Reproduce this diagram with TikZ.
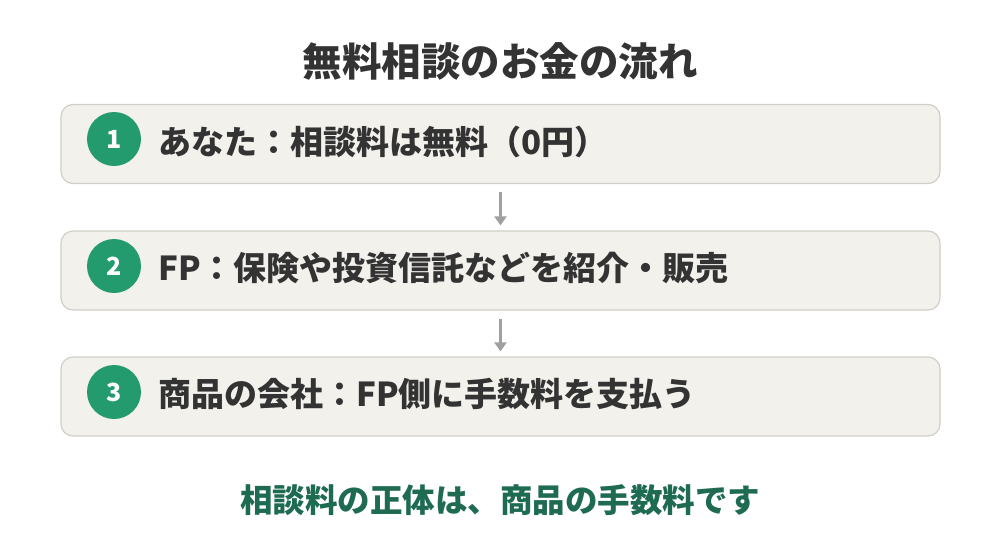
\documentclass[tikz,border=0pt]{standalone}
\usepackage{fontspec}
\newfontfamily\jp{Noto Sans CJK JP}
\usetikzlibrary{arrows.meta,positioning}
\definecolor{cbox}{RGB}{243,241,236}
\definecolor{cedge}{RGB}{208,206,198}
\definecolor{cstep}{RGB}{35,155,110}
\definecolor{ctext}{RGB}{51,51,51}
\definecolor{cnote}{RGB}{30,107,82}
\definecolor{carrow}{RGB}{160,160,160}

\begin{document}
\begin{tikzpicture}[
  x=1pt, y=-1pt,
  font=\jp\bfseries,
  rowbox/.style={draw=cedge, fill=cbox, line width=1.2pt, rounded corners=12pt, minimum width=879pt, minimum height=79pt, inner sep=0pt},
  num/.style={circle, fill=cstep, minimum size=54pt, inner sep=0pt, text=white, font=\jp\bfseries\fontsize{25}{28}\selectfont},
  lab/.style={anchor=west, text=ctext, inner sep=0pt, font=\jp\bfseries\fontsize{33}{38}\selectfont},
  ar/.style={-{Triangle[length=9pt,width=12pt]}, carrow, line width=2.5pt},
]
\useasboundingbox (0,0) rectangle (1000,546);

% ---- title ----
\node[text=ctext, font=\jp\bfseries\fontsize{39.5}{44}\selectfont] (title) at (500,61) {無料相談のお金の流れ};

% ---- steps ----
\node[rowbox] (s1) at (500.5,144) {};
\node[rowbox] (s2) at (500.5,270.5) {};
\node[rowbox] (s3) at (500.5,396.5) {};

\node[num] (n1) at (114,139) {1};
\node[num] (n2) at (114,266) {2};
\node[num] (n3) at (114,392) {3};

\node[lab] (t1) at (158,142) {あなた：相談料は無料（0円）};
\node[lab] (t2) at (158,268) {FP：保険や投資信託などを紹介・販売};
\node[lab] (t3) at (158,394) {商品の会社：FP側に手数料を支払う};

\draw[ar] ([yshift=-8pt]s1.south) -- ([yshift=5pt]s2.north);
\draw[ar] ([yshift=-8pt]s2.south) -- ([yshift=5pt]s3.north);

% ---- note ----
\node[text=cnote, font=\jp\bfseries\fontsize{32.5}{38}\selectfont] (note) at (500,500) {相談料の正体は、商品の手数料です};
\end{tikzpicture}
\end{document}
